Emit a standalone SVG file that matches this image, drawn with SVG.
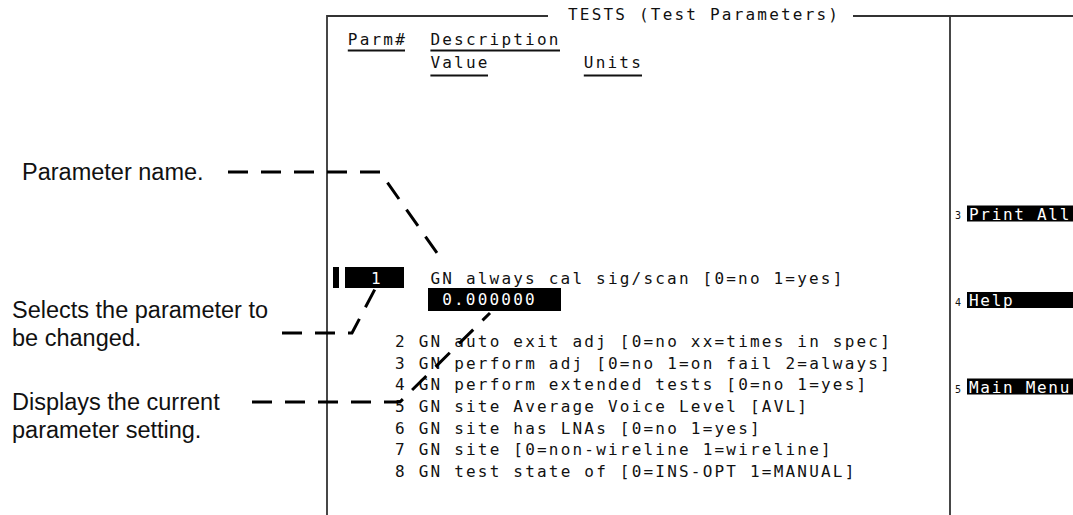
<svg xmlns="http://www.w3.org/2000/svg" width="1073" height="515" viewBox="0 0 1073 515">
<style>
.t{font-family:"DejaVu Sans Mono","Liberation Mono",monospace;font-size:16px;letter-spacing:2.2px;fill:#111}
.sk{font-family:"DejaVu Sans Mono","Liberation Mono",monospace;font-size:16px;letter-spacing:1.7px;fill:#fff}
.w{fill:#fff}
.d{font-family:"DejaVu Sans Mono",monospace;font-size:10px;fill:#111}
.lb{font-family:"Liberation Sans",Arial,sans-serif;font-size:23.5px;fill:#111}
.fr{stroke:#333;stroke-width:1.8;fill:none}
.ul{stroke:#111;stroke-width:2}
.ld{stroke:#000;stroke-width:3;fill:none;stroke-dasharray:20 13}
.hl{fill:#000}
</style>
<rect width="1073" height="515" fill="#fff"/>
<g id="screen">
<path class="fr" d="M327,515 V16 H548 M853,16 H1073 M950,16 V515"/>
<text class="t" x="568" y="20">TESTS (Test Parameters)</text>
<text class="t" x="347.8" y="45">Parm#</text>
<text class="t" x="430.4" y="45">Description</text>
<text class="t" x="430.4" y="68">Value</text>
<text class="t" x="583.8" y="68">Units</text>
<path class="ul" d="M347.8,50.5 H405 M430.4,50.5 H560 M430.4,75.5 H488 M583.8,75.5 H642"/>
</g>
<g id="param1">
<rect class="hl" x="333" y="267" width="6" height="21"/>
<rect class="hl" x="345" y="267" width="59" height="21"/>
<text class="t w" x="371" y="284">1</text>
<text class="t" x="430.4" y="284">GN always cal sig/scan [0=no 1=yes]</text>
<rect class="hl" x="428" y="288" width="133" height="23"/>
<text class="t w" x="442.2" y="305">0.000000</text>
</g>
<g id="params">
<text class="t" x="395" y="347">2 GN auto exit adj [0=no xx=times in spec]</text>
<text class="t" x="395" y="368.7">3 GN perform adj [0=no 1=on fail 2=always]</text>
<text class="t" x="395" y="390.3">4 GN perform extended tests [0=no 1=yes]</text>
<text class="t" x="395" y="412">5 GN site Average Voice Level [AVL]</text>
<text class="t" x="395" y="433.7">6 GN site has LNAs [0=no 1=yes]</text>
<text class="t" x="395" y="455.3">7 GN site [0=non-wireline 1=wireline]</text>
<text class="t" x="395" y="477">8 GN test state of [0=INS-OPT 1=MANUAL]</text>
</g>
<g id="softkey3">
<text class="d" x="955" y="219">3</text>
<rect class="hl" x="967" y="205.5" width="106" height="16"/>
<text class="sk" x="969" y="219.5">Print All</text>
</g>
<g id="softkey4">
<text class="d" x="955" y="306">4</text>
<rect class="hl" x="967" y="292" width="106" height="16"/>
<text class="sk" x="969" y="306">Help</text>
</g>
<g id="softkey5">
<text class="d" x="955" y="392.5">5</text>
<rect class="hl" x="967" y="378.5" width="106" height="16"/>
<text class="sk" x="969" y="392.5">Main Menu</text>
</g>
<g id="label-name">
<text class="lb" x="22" y="180">Parameter name.</text>
</g>
<g id="label-select">
<text class="lb" x="12" y="318">Selects the parameter to</text>
<text class="lb" x="12" y="346">be changed.</text>
</g>
<g id="label-display">
<text class="lb" x="12" y="410">Displays the current</text>
<text class="lb" x="12" y="438">parameter setting.</text>
</g>
<g id="connectors">
<path class="ld" d="M228,172 H380 L444,263"/>
<path class="ld" d="M282,333 H352 L375,289"/>
<path class="ld" d="M252,402 H400 L490,313"/>
</g>
</svg>
